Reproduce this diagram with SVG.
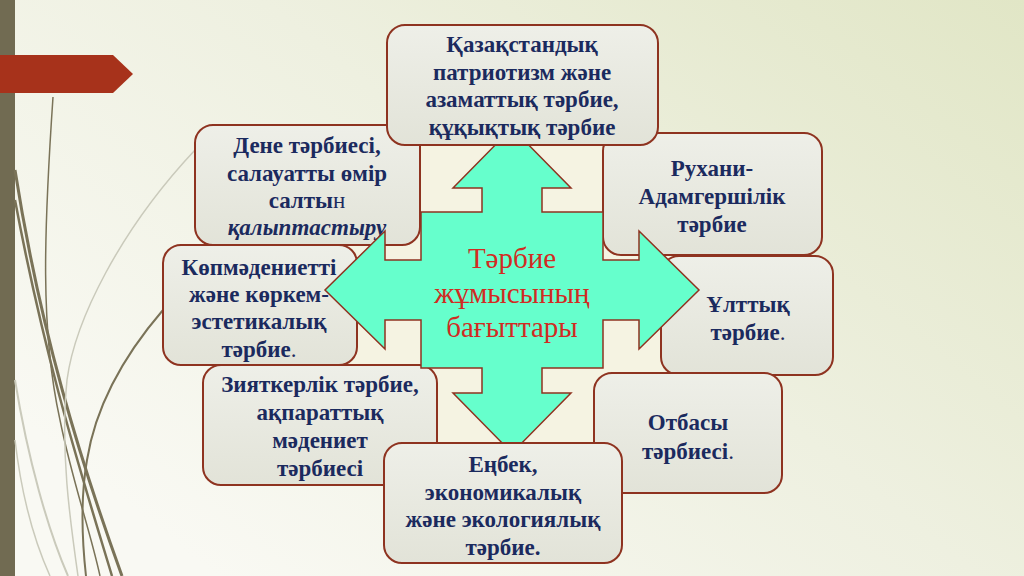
<svg xmlns="http://www.w3.org/2000/svg" width="1024" height="576" viewBox="0 0 1024 576">
<defs>
<linearGradient id="bg" x1="0" y1="0.7" x2="1" y2="0">
<stop offset="0" stop-color="#F9F9F3"/>
<stop offset="0.5" stop-color="#EEF0E0"/>
<stop offset="1" stop-color="#E1E6C6"/>
</linearGradient>
<linearGradient id="boxfill" x1="0" y1="0" x2="0" y2="1">
<stop offset="0" stop-color="#EEEFE8"/>
<stop offset="1" stop-color="#E2E3D8"/>
</linearGradient>
<style>
.box{fill:url(#boxfill);stroke:#8E3320;stroke-width:2}
.t{font-family:"Liberation Serif","Times New Roman",serif;font-weight:bold;font-size:23px;fill:#1B2A5E;text-anchor:middle}
.n{font-weight:normal}
.ctr{font-family:"Liberation Serif","Times New Roman",serif;font-size:29px;fill:#D22A22;text-anchor:middle}
.dk{fill:none;stroke:#7A7358}
.lt{fill:none;stroke:#CACABB}
</style>
</defs>
<rect width="1024" height="576" fill="url(#bg)"/>
<g id="decor">
<rect x="0" y="0" width="15" height="576" fill="#716B52"/>
<path class="dk" stroke-width="1.5" d="M53,97 C44,230 40,330 60,420 C72,480 90,530 100,576"/>
<path class="dk" stroke-width="3" d="M15,170 C40,330 80,460 122,576"/>
<path class="dk" stroke-width="2.5" d="M15,200 C45,360 80,470 112,576"/>
<path class="lt" stroke-width="1.5" d="M195,150 C120,230 75,320 67,380 C60,450 70,520 78,576"/>
<path class="dk" stroke-width="2" stroke="#8A8468" d="M163,310 C120,360 95,410 87,460 C80,500 82,540 86,576"/>
<path class="lt" stroke-width="2" d="M15,380 C28,460 48,530 68,576"/>
<path class="lt" stroke-width="1.5" d="M15,440 C22,500 36,545 50,576"/>
<polygon points="0,55 113,55 133,74 113,93 0,93" fill="#A7321B"/>
</g>
<rect x="345" y="138" width="335" height="317" fill="#F5F3E2"/>
<g id="node-dene">
<rect class="box" x="195" y="125" width="225" height="120" rx="18"/>
<text class="t" x="307" y="153">Дене тәрбиесі,</text>
<text class="t" x="307" y="181">салауатты өмір</text>
<text class="t" x="307" y="208">салты<tspan class="n">н</tspan></text>
<text class="t" x="307" y="235" font-style="italic">қалыптастыру</text>
</g>
<g id="node-kopmadeniet">
<rect class="box" x="163" y="245" width="194" height="120" rx="18"/>
<text class="t" x="259" y="275">Көпмәдениетті</text>
<text class="t" x="259" y="302">және көркем-</text>
<text class="t" x="259" y="329">эстетикалық</text>
<text class="t" x="259" y="357">тәрбие<tspan class="n">.</tspan></text>
</g>
<g id="node-rukhani">
<rect class="box" x="603" y="133" width="219" height="122" rx="18"/>
<text class="t" x="712" y="176">Рухани-</text>
<text class="t" x="712" y="204">Адамгершілік</text>
<text class="t" x="712" y="232">тәрбие</text>
</g>
<g id="node-ulttyq">
<rect class="box" x="661" y="256" width="172" height="119" rx="18"/>
<text class="t" x="748" y="312">Ұлттық</text>
<text class="t" x="748" y="340">тәрбие<tspan class="n">.</tspan></text>
</g>
<g id="node-ziyatkerlik">
<rect class="box" x="203" y="365" width="234" height="120" rx="18"/>
<text class="t" x="320" y="392">Зияткерлік тәрбие,</text>
<text class="t" x="320" y="420">ақпараттық</text>
<text class="t" x="320" y="448">мәдениет</text>
<text class="t" x="320" y="476">тәрбиесі</text>
</g>
<g id="node-otbasy">
<rect class="box" x="594" y="373" width="188" height="120" rx="18"/>
<text class="t" x="688" y="430">Отбасы</text>
<text class="t" x="688" y="459">тәрбиесі<tspan class="n">.</tspan></text>
</g>
<g id="connectors"></g>
<g id="node-center">
<path d="M512,128 L571,188 L542,188 L542,212 L603,212 L603,260 L639,260 L639,231 L699,290 L639,349 L639,320 L603,320 L603,368 L542,368 L542,393 L571,393 L512,453 L453,393 L482,393 L482,368 L421,368 L421,320 L385,320 L385,349 L325,290 L385,231 L385,260 L421,260 L421,212 L482,212 L482,188 L453,188 Z" fill="#66FFCC" stroke="#8E3320" stroke-width="1.5" stroke-linejoin="miter"/>
<text class="ctr" x="512" y="268">Тәрбие</text>
<text class="ctr" x="512" y="303">жұмысының</text>
<text class="ctr" x="512" y="337">бағыттары</text>
</g>
<g id="node-top">
<rect class="box" x="387" y="25" width="271" height="120" rx="18"/>
<text class="t" x="522" y="52">Қазақстандық</text>
<text class="t" x="522" y="80">патриотизм және</text>
<text class="t" x="522" y="107">азаматтық тәрбие,</text>
<text class="t" x="522" y="135">құқықтық тәрбие</text>
</g>
<g id="node-enbek">
<rect class="box" x="384" y="443" width="238" height="120" rx="18"/>
<text class="t" x="503" y="472">Еңбек,</text>
<text class="t" x="503" y="500">экономикалық</text>
<text class="t" x="503" y="527">және экологиялық</text>
<text class="t" x="503" y="555">тәрбие.</text>
</g>
</svg>
